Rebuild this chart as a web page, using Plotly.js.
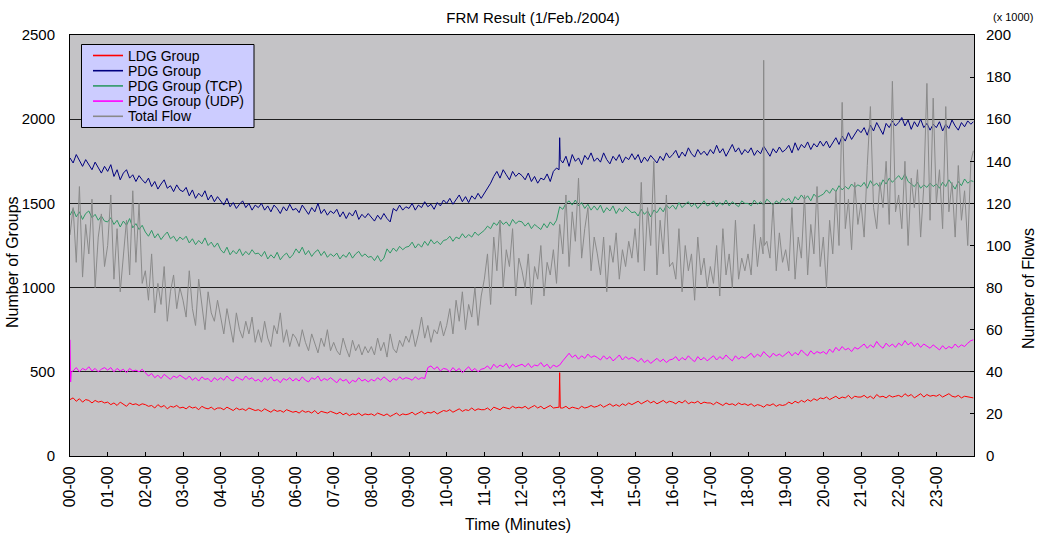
<!DOCTYPE html>
<html><head><meta charset="utf-8">
<script src="https://cdn.plot.ly/plotly-3.0.1.min.js"></script>
<style>html,body{margin:0;padding:0;background:#fff}#chart{width:1039px;height:536px}</style>
</head><body><div id="chart"></div>
<script>
// hour tick labels
const hourLabels = ['00-00','01-00','02-00','03-00','04-00','05-00','06-00','07-00','08-00','09-00','10-00','11-00',
  '12-00','13-00','14-00','15-00','16-00','17-00','18-00','19-00','20-00','21-00','22-00','23-00'];

// Group counts, one sample every 5 minutes (12 per hour)
const ldgGroup = [
 335,345,325,340,320,335,330,315,330,320,325,315,
 320,305,315,300,320,310,295,315,305,310,300,310,
 305,295,300,285,305,290,300,280,295,290,300,285,
 290,280,295,285,290,275,295,285,280,290,275,285,
 285,275,290,280,270,285,275,280,270,285,275,270,
 275,265,280,270,260,275,265,270,260,275,265,260,
 265,255,270,260,265,255,270,250,265,260,255,265,
 255,250,260,245,255,240,250,245,255,240,250,245,
 250,240,255,245,240,250,235,245,255,240,250,245,
 250,260,245,255,265,250,260,255,265,250,260,270,
 265,275,260,270,280,265,275,270,285,270,280,275,
 275,285,270,290,280,275,290,285,280,295,285,290,
 285,295,280,290,300,285,295,280,290,300,285,290,
 495,285,295,280,290,285,280,295,285,290,300,290,
 295,305,290,300,310,295,305,295,310,300,315,305,
 315,325,310,320,330,315,325,310,320,330,315,325,
 320,310,325,315,330,310,320,315,325,310,320,315,
 315,305,320,310,300,315,305,310,300,315,305,310,
 300,310,295,305,300,290,305,300,310,295,305,300,
 305,320,310,325,315,330,320,335,325,340,330,345,
 340,350,335,345,355,340,350,345,360,340,355,350,
 350,360,345,355,340,365,350,355,345,360,350,355,
 360,350,370,355,365,345,360,370,350,365,355,360,
 355,365,350,360,370,355,350,360,345,355,350,345];
const pdgGroup = [
 1770,1740,1790,1750,1720,1760,1730,1700,1745,1710,1680,1720,
 1690,1730,1660,1700,1640,1680,1700,1650,1670,1630,1665,1640,
 1620,1650,1600,1630,1585,1615,1640,1590,1605,1570,1610,1580,
 1570,1595,1545,1580,1530,1560,1540,1575,1520,1550,1510,1540,
 1515,1490,1530,1480,1505,1470,1495,1515,1475,1500,1460,1490,
 1475,1500,1460,1485,1450,1490,1470,1440,1480,1455,1495,1460,
 1470,1445,1490,1460,1435,1475,1450,1500,1440,1465,1430,1455,
 1440,1465,1420,1450,1410,1445,1425,1460,1405,1435,1415,1440,
 1420,1395,1430,1405,1440,1410,1390,1470,1455,1490,1460,1480,
 1470,1500,1460,1490,1475,1510,1480,1495,1465,1505,1485,1520,
 1500,1530,1495,1520,1550,1510,1540,1505,1545,1525,1560,1530,
 1560,1590,1620,1660,1690,1650,1700,1670,1640,1690,1660,1680,
 1665,1640,1680,1630,1660,1620,1650,1640,1675,1630,1690,1710,
 1890,1740,1780,1720,1790,1750,1770,1730,1785,1760,1800,1750,
 1770,1745,1800,1760,1735,1780,1755,1790,1740,1775,1760,1795,
 1760,1790,1740,1775,1750,1785,1765,1740,1780,1755,1800,1770,
 1790,1815,1770,1805,1780,1830,1795,1775,1820,1790,1810,1785,
 1820,1795,1845,1800,1825,1780,1815,1850,1805,1830,1790,1820,
 1800,1830,1785,1815,1795,1840,1810,1780,1825,1800,1835,1805,
 1820,1845,1800,1860,1815,1850,1830,1865,1820,1855,1835,1870,
 1840,1870,1830,1860,1890,1850,1900,1870,1920,1880,1910,1940,
 1920,1950,1905,1965,1930,1980,1945,1910,1975,1950,1990,1960,
 1980,2010,1960,1995,1940,1985,1955,2000,1950,1975,1935,1970,
 1950,1985,1930,1970,1945,1995,1960,1935,1980,1955,1990,1970];
const pdgTcp = [
 1430,1465,1420,1450,1405,1440,1455,1415,1435,1400,1425,1395,
 1390,1415,1375,1400,1360,1395,1370,1410,1355,1380,1345,1370,
 1330,1305,1340,1295,1320,1285,1310,1330,1290,1305,1275,1300,
 1285,1305,1265,1290,1255,1280,1260,1295,1250,1270,1240,1265,
 1225,1205,1240,1195,1220,1200,1230,1190,1215,1195,1225,1200,
 1205,1185,1215,1170,1195,1175,1210,1165,1190,1205,1175,1195,
 1230,1205,1240,1195,1220,1185,1210,1225,1190,1215,1180,1200,
 1185,1205,1170,1195,1180,1210,1175,1200,1215,1185,1200,1180,
 1185,1160,1190,1155,1175,1230,1205,1235,1215,1245,1225,1240,
 1245,1270,1235,1260,1240,1275,1250,1285,1260,1275,1255,1280,
 1285,1305,1275,1300,1290,1320,1295,1315,1300,1330,1310,1325,
 1340,1365,1350,1385,1370,1400,1375,1390,1365,1405,1380,1395,
 1390,1365,1385,1350,1375,1360,1345,1380,1355,1390,1370,1400,
 1480,1465,1500,1515,1490,1520,1485,1505,1470,1495,1460,1485,
 1460,1490,1445,1475,1455,1485,1440,1470,1450,1480,1460,1445,
 1450,1425,1465,1435,1455,1420,1460,1445,1475,1450,1490,1470,
 1490,1465,1505,1475,1495,1510,1480,1500,1470,1495,1515,1485,
 1495,1515,1480,1505,1490,1520,1485,1510,1495,1480,1515,1500,
 1500,1485,1520,1495,1510,1490,1525,1505,1490,1515,1500,1530,
 1515,1530,1500,1540,1520,1550,1525,1545,1515,1555,1535,1545,
 1555,1580,1560,1590,1570,1605,1580,1600,1585,1615,1595,1610,
 1600,1625,1590,1635,1605,1620,1595,1640,1615,1650,1625,1645,
 1665,1640,1675,1630,1615,1600,1625,1590,1610,1595,1620,1600,
 1615,1590,1625,1600,1640,1610,1585,1630,1605,1645,1620,1635];
const pdgUdp = [
 690,505,525,500,520,510,530,505,520,500,515,525,
 510,525,500,520,505,515,495,520,505,510,500,515,
 495,475,490,465,480,460,485,470,455,475,465,480,
 470,455,475,450,465,445,470,455,460,440,465,450,
 465,450,475,455,445,470,460,450,475,455,465,445,
 455,440,465,450,470,445,455,435,460,450,465,445,
 460,445,470,450,440,465,455,475,445,460,450,465,
 450,435,460,445,455,430,450,440,465,445,455,440,
 455,445,465,450,470,455,440,460,450,470,455,465,
 460,450,470,455,465,460,525,535,515,530,505,520,
 515,500,525,505,520,495,515,530,505,520,500,515,
 520,535,515,545,525,540,530,550,520,545,530,540,
 545,530,550,525,540,535,555,530,545,520,540,530,
 540,565,590,610,585,600,575,595,580,605,585,595,
 585,570,595,575,590,565,580,600,570,590,575,585,
 575,560,580,555,570,550,565,580,560,575,555,570,
 575,590,565,585,570,595,575,560,590,570,585,565,
 580,595,570,590,575,600,580,565,595,575,590,580,
 595,610,585,605,590,620,600,585,610,595,605,590,
 605,620,595,615,600,630,610,595,625,605,620,610,
 620,605,635,615,645,625,650,630,640,620,645,635,
 650,665,640,660,645,680,655,640,670,650,665,645,
 670,655,685,660,675,650,670,645,665,655,640,660,
 645,630,655,635,650,640,665,645,660,650,670,685];

// Total flow (x 1000), one sample every 5 minutes (12 per hour)
const totalFlow = [
 105,118,92,128,85,110,96,122,80,104,115,90,
 100,124,84,108,78,96,112,86,126,92,120,82,
 88,74,96,68,82,72,90,64,78,86,70,80,
 74,66,88,70,62,84,72,60,78,68,64,74,
 66,58,70,62,54,68,60,56,64,58,66,54,
 60,54,64,56,52,62,58,68,54,60,52,58,
 56,52,60,54,50,58,53,49,56,52,60,50,
 54,50,48,56,51,47,55,50,53,48,52,49,
 52,48,56,50,54,47,58,51,49,55,52,57,
 54,60,52,58,66,56,62,54,60,58,64,57,
 62,70,58,74,64,78,60,72,66,80,62,76,
 84,96,72,104,88,112,80,98,90,108,76,94,
 88,80,96,72,90,84,100,76,92,86,98,82,
 110,96,124,90,116,102,132,94,108,118,88,104,
 96,86,104,78,100,92,106,84,98,90,102,94,
 108,92,130,88,118,100,140,86,112,96,124,90,
 92,84,108,78,100,88,96,74,104,86,94,80,
 90,82,100,76,108,86,96,80,112,84,94,88,
 96,86,110,90,104,188,102,94,120,88,106,92,
 98,88,118,84,104,94,124,86,110,96,128,90,
 104,80,112,96,126,100,168,108,122,98,130,110,
 120,104,138,166,118,108,130,118,140,110,178,116,
 124,108,140,100,132,118,136,104,128,177,112,170,
 120,136,108,166,116,130,104,138,112,126,100,140];

// extra one-minute samples read at sharp spikes and at the last minute
const ldgExtraMin = [779, 781, 1439];   const ldgExtraVal = [290, 285, 345];
const pdgExtraMin = [779, 781, 1439];   const pdgExtraVal = [1700, 1760, 1985];
const tcpExtraMin = [1439];             const tcpExtraVal = [1630];
const udpExtraMin = [1, 2, 1439];       const udpExtraVal = [440, 500, 690];
const flowExtraMin = [1104, 1106, 1439]; const flowExtraVal = [96, 100, 145];

const legendNames = ['LDG Group', 'PDG Group', 'PDG Group (TCP)', 'PDG Group (UDP)', 'Total Flow'];
const colors = ['#ff0000', '#000080', '#2f9966', '#ff00ff', '#8a8a8a'];

function build(vals, step, exMin, exVal) {
  const pts = vals.map((v, i) => [i * step, v]);
  exMin.forEach((m, i) => pts.push([m, exVal[i]]));
  pts.sort((a, b) => a[0] - b[0]);
  return {x: pts.map(p => p[0]), y: pts.map(p => p[1])};
}

const series = [
  build(ldgGroup, 5, ldgExtraMin, ldgExtraVal),
  build(pdgGroup, 5, pdgExtraMin, pdgExtraVal),
  build(pdgTcp, 5, tcpExtraMin, tcpExtraVal),
  build(pdgUdp, 5, udpExtraMin, udpExtraVal),
  build(totalFlow, 5, flowExtraMin, flowExtraVal)
];

const font = 'Liberation Sans, Arial, sans-serif';
const traces = series.map((d, i) => ({
  x: d.x, y: d.y, name: legendNames[i], type: 'scatter', mode: 'lines',
  yaxis: i === 4 ? 'y2' : 'y', line: {color: colors[i], width: 1}, showlegend: false
}));

// plot-area pixel geometry -> paper coordinates (for the hand-built legend and titles)
const W = 1039, H = 536, L = 70, R = 65, T = 35, B = 80;
const pw = W - L - R, ph = H - T - B;
const px = v => (v - L) / pw;
const py = v => (H - B - v) / ph;

const shapes = [{type: 'rect', xref: 'paper', yref: 'paper', x0: px(81.5), x1: px(254), y0: py(44.5), y1: py(127.5),
                 fillcolor: '#ccccff', line: {color: '#000', width: 1}, layer: 'above'}];
const annotations = [];
legendNames.forEach((n, i) => {
  const yy = 55.5 + i * 15.2;
  shapes.push({type: 'line', xref: 'paper', yref: 'paper', x0: px(93), x1: px(123), y0: py(yy), y1: py(yy),
               line: {color: colors[i], width: 1.6}, layer: 'above'});
  annotations.push({text: n, xref: 'paper', yref: 'paper', x: px(126), y: py(yy), xanchor: 'left', yanchor: 'middle',
                    showarrow: false, font: {family: font, size: 14, color: '#000'}});
});
annotations.push(
  {text: 'Number of Groups', textangle: -90, xref: 'paper', yref: 'paper', x: px(12), y: py(262), xanchor: 'center', yanchor: 'middle',
   showarrow: false, font: {family: font, size: 16}},
  {text: 'Number of Flows', textangle: -90, xref: 'paper', yref: 'paper', x: px(1028), y: py(289), xanchor: 'center', yanchor: 'middle',
   showarrow: false, font: {family: font, size: 16}},
  {text: 'Time (Minutes)', xref: 'paper', yref: 'paper', x: px(518), y: py(524), xanchor: 'center', yanchor: 'middle',
   showarrow: false, font: {family: font, size: 16}},
  {text: '(x 1000)', xref: 'paper', yref: 'paper', x: px(1013), y: py(17), xanchor: 'center', yanchor: 'middle',
   showarrow: false, font: {family: font, size: 11}}
);

const layout = {
  width: W, height: H,
  margin: {l: L, r: R, t: T, b: B},
  paper_bgcolor: '#ffffff', plot_bgcolor: '#c4c3c6',
  font: {family: font, size: 15, color: '#000'},
  title: {text: 'FRM Result (1/Feb./2004)', font: {family: font, size: 15}, x: 533 / W, xanchor: 'center', y: 1 - 18 / H, yanchor: 'middle'},
  showlegend: false,
  xaxis: {range: [0, 1440], tickmode: 'array', tickvals: hourLabels.map((_, i) => i * 60), ticktext: hourLabels,
          tickangle: -90, ticks: 'inside', ticklen: 4, tickcolor: '#000', showgrid: false, zeroline: false,
          showline: true, linecolor: '#000', linewidth: 1, mirror: true, automargin: false, ticklabelstandoff: 3,
          tickfont: {family: font, size: 16}},
  yaxis: {range: [0, 2500], dtick: 500, ticks: '', showgrid: true, gridcolor: '#202020', gridwidth: 1, zeroline: false,
          showline: true, linecolor: '#000', linewidth: 1, mirror: true, automargin: false, ticklabelstandoff: 11,
          tickfont: {family: font, size: 15}},
  yaxis2: {overlaying: 'y', side: 'right', range: [0, 200], dtick: 20, ticks: 'inside', ticklen: 4, tickcolor: '#000',
           showgrid: false, zeroline: false, showline: false, automargin: false, ticklabelstandoff: 11,
           tickfont: {family: font, size: 15}},
  shapes: shapes,
  annotations: annotations
};

Plotly.newPlot('chart', traces, layout, {displayModeBar: false, staticPlot: true});
</script>
</body></html>
